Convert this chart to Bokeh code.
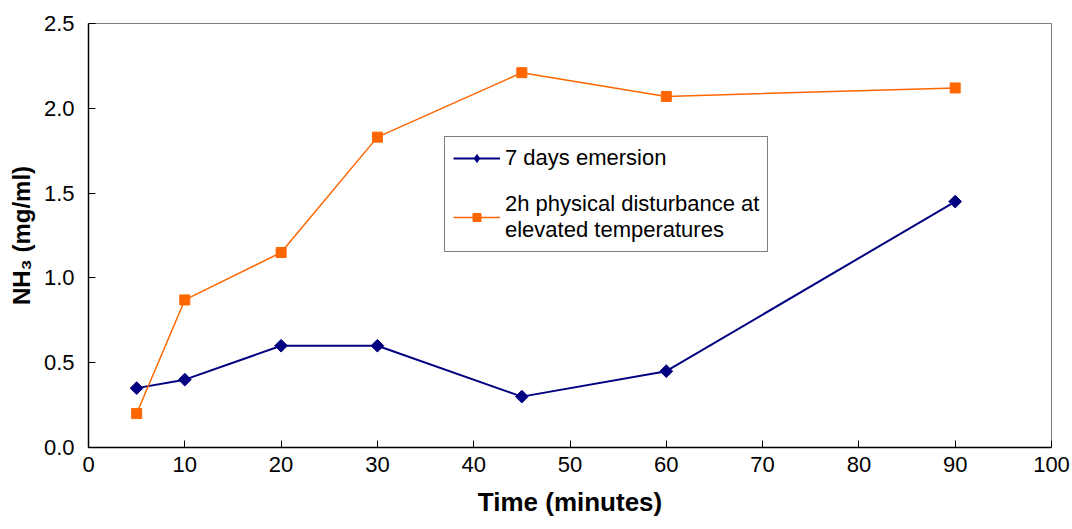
import math
from bokeh.plotting import figure
from bokeh.embed import file_html
from bokeh.resources import INLINE
from bokeh.models import Legend, LegendItem, FixedTicker, PrintfTickFormatter, Range1d

x_minutes = [5, 10, 20, 30, 45, 60, 90]
emersion = [0.35, 0.40, 0.60, 0.60, 0.30, 0.45, 1.45]
disturbance = [0.20, 0.87, 1.15, 1.83, 2.21, 2.07, 2.12]
x_ticks = [0, 10, 20, 30, 40, 50, 60, 70, 80, 90, 100]
y_ticks = [0.0, 0.5, 1.0, 1.5, 2.0, 2.5]
label_a = "7 days emersion"
label_b = "2h physical disturbance at\nelevated temperatures"

BLUE = "#000080"
ORANGE = "#FF6600"
FONT = "Liberation Sans"

p = figure(width=1072, height=529, output_backend="svg", toolbar_location=None,
           x_range=Range1d(0, 100), y_range=Range1d(0, 2.5),
           min_border_left=88, min_border_right=21, min_border_top=23, min_border_bottom=82)
p.background_fill_color = "white"
p.outline_line_color = "#808080"
p.outline_line_width = 1
p.xgrid.visible = False
p.ygrid.visible = False

for ax in (p.xaxis[0], p.yaxis[0]):
    ax.axis_line_color = "black"
    ax.axis_line_width = 1.5
    ax.major_tick_in = 7
    ax.major_tick_out = 0
    ax.minor_tick_in = 0
    ax.minor_tick_out = 0
    ax.major_tick_line_color = "black"
    ax.major_tick_line_width = 1
    ax.major_label_text_font = FONT
    ax.major_label_text_font_size = "22px"
    ax.major_label_text_color = "black"
    ax.axis_label_text_font = FONT
    ax.axis_label_text_font_style = "bold"
    ax.axis_label_text_color = "black"

p.xaxis.axis_label_text_font_size = "26px"
p.yaxis.axis_label_text_font_size = "24px"
p.xaxis.ticker = FixedTicker(ticks=x_ticks)
p.yaxis.ticker = FixedTicker(ticks=y_ticks)
p.yaxis.formatter = PrintfTickFormatter(format="%.1f")
p.xaxis.axis_label = "Time (minutes)"
p.yaxis.axis_label = "NH\u2083 (mg/ml)"
p.xaxis.major_label_standoff = 9
p.yaxis.major_label_standoff = 14
p.xaxis.axis_label_standoff = 12
p.yaxis.axis_label_standoff = 6

la = p.line(x_minutes, emersion, line_color=BLUE, line_width=2)
# diamond marker (used for the legend glyph); covered by the rotated squares below
da = p.scatter(x_minutes, emersion, marker="diamond", size=9, fill_color=BLUE, line_color=BLUE)
sa = p.scatter(x_minutes, emersion, marker="square", angle=math.pi / 4, size=9,
               fill_color=BLUE, line_color=BLUE)
lb = p.line(x_minutes, disturbance, line_color=ORANGE, line_width=1.5)
sb = p.scatter(x_minutes, disturbance, marker="square", size=10, fill_color=ORANGE, line_color=ORANGE)

legend = Legend(items=[LegendItem(label=label_a, renderers=[la, da]),
                       LegendItem(label=label_b, renderers=[lb, sb])],
                location=(356, 195))
legend.border_line_color = "black"
legend.border_line_width = 1
legend.background_fill_color = "white"
legend.background_fill_alpha = 1
legend.label_text_font = FONT
legend.label_text_font_size = "22px"
legend.label_text_color = "black"
legend.label_text_line_height = 1.25
legend.glyph_width = 47
legend.glyph_height = 20
legend.label_standoff = 5
legend.spacing = 20
legend.padding = 8
legend.margin = 0
p.add_layout(legend, "center")

open("out.html", "w").write(file_html(p, INLINE))
